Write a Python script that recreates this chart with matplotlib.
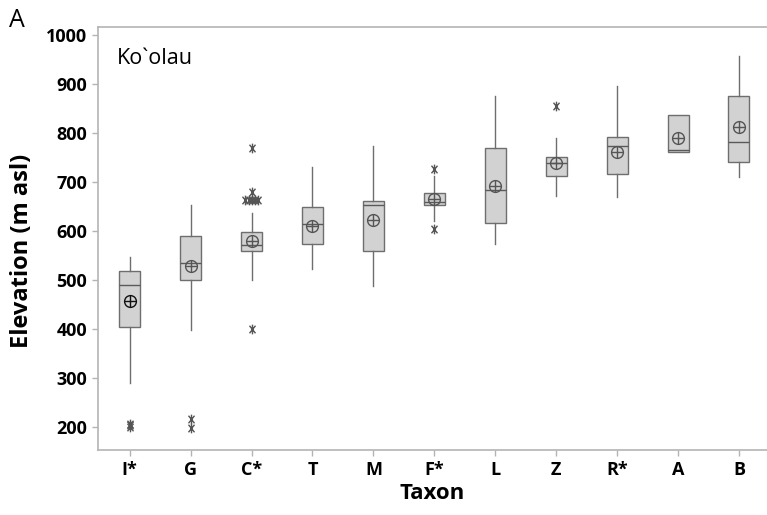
import matplotlib
matplotlib.use("Agg")
import matplotlib.pyplot as plt
from matplotlib.path import Path
import numpy as np

# Elevation summaries per taxon (m asl)
taxa = ["I*", "G", "C*", "T", "M", "F*", "L", "Z", "R*", "A", "B"]
whisker_low = [289, 397, 499, 522, 488, 620, 573, 672, 670, 760, 710]
q1 = [404, 500, 558, 574, 560, 652, 616, 712, 716, 760, 741]
median = [490, 534, 571, 614, 653, 658, 684, 739, 774, 765, 781]
q3 = [518, 590, 597, 648, 662, 678, 769, 750, 792, 837, 876]
whisker_high = [547, 653, 636, 730, 773, 711, 876, 789, 896, 837, 956]
mean = [458, 529, 580, 611, 622, 665, 692, 738, 760, 789, 811]
outliers = [
    [200, 203, 206],
    [198, 217],
    [399, 663, 663, 663, 663, 663, 680, 769],
    [],
    [],
    [603, 726],
    [],
    [855],
    [],
    [],
    [],
]
yticks = [200, 300, 400, 500, 600, 700, 800, 900, 1000]

plt.rcParams["font.family"] = ["Open Sans", "DejaVu Sans"]

fig = plt.figure(figsize=(7.67, 5.15), dpi=100)
ax = fig.add_axes([0.1278, 0.1262, 0.8722, 0.8214])

positions = np.arange(1, len(taxa) + 1)
stats = []
for i, name in enumerate(taxa):
    stats.append(dict(label=name, whislo=whisker_low[i], q1=q1[i], med=median[i],
                      q3=q3[i], whishi=whisker_high[i], mean=mean[i], fliers=[]))

edge = "#6e6e6e"
ax.bxp(stats, positions=positions, widths=0.345, patch_artist=True,
       showcaps=False, showfliers=False, showmeans=False,
       boxprops=dict(facecolor="#d2d2d2", edgecolor=edge, linewidth=1.0),
       whiskerprops=dict(color=edge, linewidth=1.0),
       medianprops=dict(color="#5a5a5a", linewidth=1.0))

# Mean symbol: circle with cross
for i, m in enumerate(mean):
    c = "#111111" if i == 0 else "#555555"
    ax.plot(positions[i], m, marker="o", ms=8.5, mfc="none", mec=c, mew=1.0, zorder=5)
    ax.plot(positions[i], m, marker="+", ms=8.5, mec=c, mew=1.0, zorder=5)

# Outlier symbol: an X crossed by a vertical stroke
star = Path([(0, -1), (0, 1), (-0.62, -0.78), (0.62, 0.78), (-0.62, 0.78), (0.62, -0.78)],
            [Path.MOVETO, Path.LINETO] * 3)

# Outliers, tied values spread sideways
for i, vals in enumerate(outliers):
    if not vals:
        continue
    vals = np.array(vals)
    for v in np.unique(vals):
        n = int(np.sum(vals == v))
        offs = (np.arange(n) - (n - 1) / 2) * 0.05
        ax.plot(positions[i] + offs, [v] * n, linestyle="none", marker=star,
                ms=7, mec="#555555", mew=1.0, zorder=4)

ax.set_xlim(0.48, 11.46)
ax.set_ylim(153, 1016)
ax.set_xticks(positions)
ax.set_xticklabels(taxa, fontsize=13, fontweight="bold")
ax.set_yticks(yticks)
ax.set_yticklabels([str(t) for t in yticks], fontsize=13, fontweight="bold")

spine_c = "#b4b4b4"
for s in ["left", "top", "bottom"]:
    ax.spines[s].set_color(spine_c)
    ax.spines[s].set_linewidth(1.2)
ax.spines["right"].set_visible(False)
ax.tick_params(axis="both", direction="out", length=4, width=1, color=spine_c, pad=4)

ax.set_xlabel("Taxon", fontsize=16, fontweight="bold", labelpad=3)
ax.set_ylabel("Elevation (m asl)", fontsize=17, fontweight="bold")
ax.yaxis.set_label_coords(-0.096, 0.47)

ax.text(0.028, 0.925, "Ko`olau", transform=ax.transAxes, fontsize=15.5, va="center", ha="left")
fig.text(0.012, 0.96, "A", fontsize=18, va="center", ha="left")

fig.savefig("out.png", dpi=100)
